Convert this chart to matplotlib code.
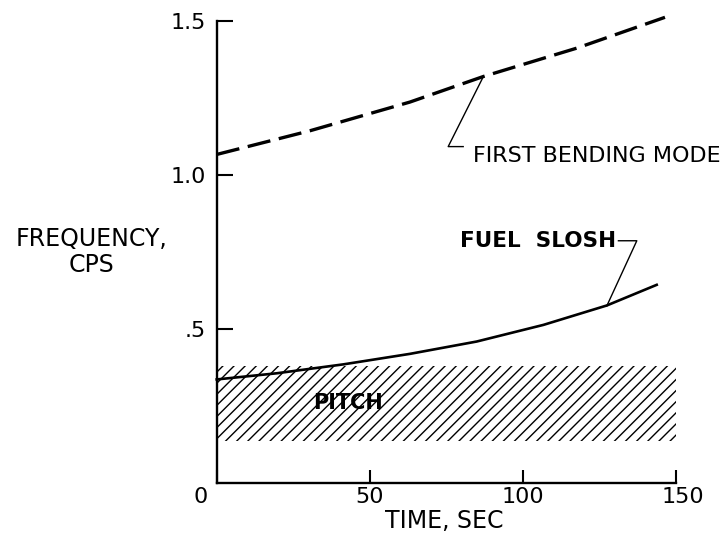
import matplotlib
matplotlib.use("Agg")
import matplotlib.pyplot as plt
import matplotlib.transforms as mtransforms

# Data
bend_t = [0, 30.5, 63.1, 87.1, 117.6, 146.4]
bend_f = [1.066, 1.143, 1.236, 1.319, 1.411, 1.511]

slosh_t = [0, 19.6, 41.4, 63.1, 84.9, 106.7, 127.4, 143.7]
slosh_f = [0.336, 0.356, 0.385, 0.419, 0.459, 0.513, 0.576, 0.643]

pitch_t = [0, 150]
pitch_low = [0.135, 0.135]
pitch_high = [0.38, 0.38]

xticks = [0, 50, 100, 150]
xticklabels = ["0", "50", "100", "150"]
yticks = [0.5, 1.0, 1.5]
yticklabels = [".5", "1.0", "1.5"]

plt.rcParams['font.family'] = ['DejaVu Sans']
plt.rcParams['hatch.linewidth'] = 1.0

W, H = 727, 541
fig = plt.figure(figsize=(W / 100, H / 100), dpi=100)
ax = fig.add_axes([216.7 / W, 1 - 483 / H, (676 - 216.7) / W, (483 - 20.7) / H])

ax.fill_between(pitch_t, pitch_low, pitch_high, facecolor='none',
                edgecolor='black', hatch='///', linewidth=0)
ax.plot(bend_t, bend_f, color='black', lw=2.4, dashes=(7, 2.6),
        clip_on=False, dash_capstyle='butt')
ax.plot(slosh_t, slosh_f, color='black', lw=1.9, clip_on=False)

# leader lines
ax.plot([87.1, 75.6, 80.5], [1.319, 1.0915, 1.0915], color='black', lw=1.0, clip_on=False)
ax.plot([127.4, 137.2, 131.2], [0.5745, 0.786, 0.786], color='black', lw=1.0, clip_on=False)

ax.text(83.8, 1.062, "FIRST BENDING MODE", fontsize=16, ha='left', va='center',
        clip_on=False)
ax.text(130.6, 0.786, "FUEL  SLOSH", fontsize=15.5, ha='right', va='center',
        fontweight='bold', clip_on=False)
ax.text(43.0, 0.259, "PITCH", fontsize=15, ha='center', va='center',
        fontweight='bold')

ax.set_xlim(0, 150)
ax.set_ylim(0, 1.5)
ax.spines['top'].set_visible(False)
ax.spines['right'].set_visible(False)
for s in ('left', 'bottom'):
    ax.spines[s].set_linewidth(1.7)

ax.set_xticks(xticks)
ax.set_xticklabels(xticklabels)
ax.set_yticks(yticks)
ax.set_yticklabels(yticklabels)
ax.tick_params(axis='x', direction='in', length=9.5, width=1.5, pad=3, labelsize=16)
ax.tick_params(axis='y', direction='in', length=11.5, width=1.5, pad=8, labelsize=16)

# irregular label offsets as in the original
offs = {0: -16, 3: 7}
for i, lab in enumerate(ax.get_xticklabels()):
    if i in offs:
        lab.set_transform(lab.get_transform() +
                          mtransforms.ScaledTranslation(offs[i] / 100, 0, fig.dpi_scale_trans))

fig.text(444 / W, 1 - 521 / H, "TIME, SEC", fontsize=17, ha='center', va='center')
fig.text(91 / W, 1 - 252 / H, "FREQUENCY,\nCPS", fontsize=17, ha='center',
         va='center', multialignment='center', linespacing=1.1)

fig.savefig("out.png", dpi=100)
